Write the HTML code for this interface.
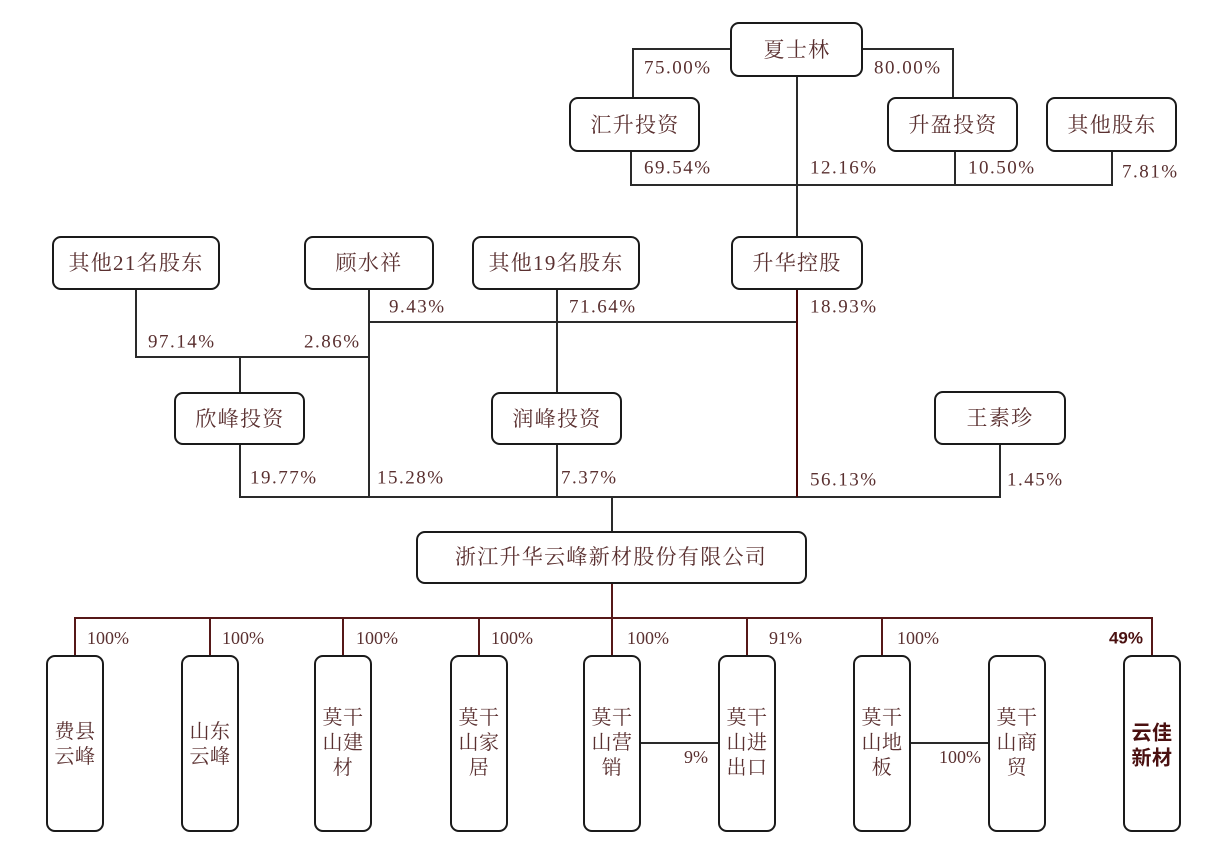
<!DOCTYPE html>
<html><head><meta charset="utf-8"><style>
html,body{margin:0;padding:0;background:#fff;}
svg{display:block;}
.b{fill:#fff;stroke:#1a1a1a;stroke-width:2;}
.t{font-family:"Liberation Serif","Noto Serif CJK SC",serif;font-size:21px;fill:#5a3030;letter-spacing:1.3px;}
.c{font-family:"Liberation Serif","Noto Serif CJK SC",serif;font-size:20px;fill:#5a3030;letter-spacing:0.5px;}
.p{font-family:"Liberation Serif","Noto Serif CJK SC",serif;font-size:19px;fill:#5a3030;letter-spacing:1.5px;}
.q{font-family:"Liberation Serif","Noto Serif CJK SC",serif;font-size:18px;fill:#5a3030;}
.k{fill:none;stroke:#2a2a2a;stroke-width:2;}
.r{fill:none;stroke:#561818;stroke-width:2;}
</style></head><body>
<svg width="1230" height="846" viewBox="0 0 1230 846" xmlns="http://www.w3.org/2000/svg">
<!-- connectors -->
<polyline class="k" points="633,98 633,49 731,49"/>
<polyline class="k" points="862,49 953,49 953,98"/>
<line class="k" x1="797" y1="76" x2="797" y2="237"/>
<polyline class="k" points="631,151 631,185 1112,185 1112,151"/>
<line class="k" x1="955" y1="151" x2="955" y2="185"/>
<polyline class="k" points="136,289 136,357 369,357"/>
<line class="k" x1="369" y1="289" x2="369" y2="497"/>
<line class="k" x1="369" y1="322" x2="797" y2="322"/>
<line class="k" x1="557" y1="289" x2="557" y2="393"/>
<line class="k" x1="240" y1="357" x2="240" y2="393"/>
<polyline class="k" points="240,444 240,497 1000,497 1000,444"/>
<line class="k" x1="557" y1="444" x2="557" y2="497"/>
<line class="k" x1="612" y1="497" x2="612" y2="532"/>
<line class="r" x1="797" y1="289" x2="797" y2="497" style="stroke:#4a0808"/>
<line class="r" x1="612" y1="583" x2="612" y2="656"/>
<polyline class="r" points="75,656 75,618 1152,618 1152,656"/>
<line class="r" x1="210" y1="618" x2="210" y2="656"/>
<line class="r" x1="343" y1="618" x2="343" y2="656"/>
<line class="r" x1="479" y1="618" x2="479" y2="656"/>
<line class="r" x1="747" y1="618" x2="747" y2="656"/>
<line class="r" x1="882" y1="618" x2="882" y2="656"/>
<line class="k" x1="640" y1="743" x2="719" y2="743"/>
<line class="k" x1="910" y1="743" x2="989" y2="743"/>

<!-- top boxes -->
<rect class="b" x="731" y="23" width="131" height="53" rx="8"/>
<text class="t" x="797" y="50" text-anchor="middle" dominant-baseline="central">夏士林</text>
<rect class="b" x="570" y="98" width="129" height="53" rx="8"/>
<text class="t" x="635" y="125" text-anchor="middle" dominant-baseline="central">汇升投资</text>
<rect class="b" x="888" y="98" width="129" height="53" rx="8"/>
<text class="t" x="953" y="125" text-anchor="middle" dominant-baseline="central">升盈投资</text>
<rect class="b" x="1047" y="98" width="129" height="53" rx="8"/>
<text class="t" x="1112" y="125" text-anchor="middle" dominant-baseline="central">其他股东</text>

<rect class="b" x="53" y="237" width="166" height="52" rx="8"/>
<text class="t" x="136" y="263" text-anchor="middle" dominant-baseline="central">其他21名股东</text>
<rect class="b" x="305" y="237" width="128" height="52" rx="8"/>
<text class="t" x="369" y="263" text-anchor="middle" dominant-baseline="central">顾水祥</text>
<rect class="b" x="473" y="237" width="166" height="52" rx="8"/>
<text class="t" x="556" y="263" text-anchor="middle" dominant-baseline="central">其他19名股东</text>
<rect class="b" x="732" y="237" width="130" height="52" rx="8"/>
<text class="t" x="797" y="263" text-anchor="middle" dominant-baseline="central">升华控股</text>

<rect class="b" x="175" y="393" width="129" height="51" rx="8"/>
<text class="t" x="240" y="419" text-anchor="middle" dominant-baseline="central">欣峰投资</text>
<rect class="b" x="492" y="393" width="129" height="51" rx="8"/>
<text class="t" x="557" y="419" text-anchor="middle" dominant-baseline="central">润峰投资</text>
<rect class="b" x="935" y="392" width="130" height="52" rx="8"/>
<text class="t" x="1000" y="418" text-anchor="middle" dominant-baseline="central">王素珍</text>

<rect class="b" x="417" y="532" width="389" height="51" rx="8"/>
<text class="t" x="611" y="557" text-anchor="middle" dominant-baseline="central">浙江升华云峰新材股份有限公司</text>

<!-- child boxes -->
<rect class="b" x="47" y="656" width="56" height="175" rx="8"/>
<text class="c" x="75" y="732" text-anchor="middle" dominant-baseline="central">费县</text>
<text class="c" x="75" y="757" text-anchor="middle" dominant-baseline="central">云峰</text>
<rect class="b" x="182" y="656" width="56" height="175" rx="8"/>
<text class="c" x="210" y="732" text-anchor="middle" dominant-baseline="central">山东</text>
<text class="c" x="210" y="757" text-anchor="middle" dominant-baseline="central">云峰</text>
<rect class="b" x="315" y="656" width="56" height="175" rx="8"/>
<text class="c" x="343" y="718" text-anchor="middle" dominant-baseline="central">莫干</text>
<text class="c" x="343" y="743" text-anchor="middle" dominant-baseline="central">山建</text>
<text class="c" x="343" y="768" text-anchor="middle" dominant-baseline="central">材</text>
<rect class="b" x="451" y="656" width="56" height="175" rx="8"/>
<text class="c" x="479" y="718" text-anchor="middle" dominant-baseline="central">莫干</text>
<text class="c" x="479" y="743" text-anchor="middle" dominant-baseline="central">山家</text>
<text class="c" x="479" y="768" text-anchor="middle" dominant-baseline="central">居</text>
<rect class="b" x="584" y="656" width="56" height="175" rx="8"/>
<text class="c" x="612" y="718" text-anchor="middle" dominant-baseline="central">莫干</text>
<text class="c" x="612" y="743" text-anchor="middle" dominant-baseline="central">山营</text>
<text class="c" x="612" y="768" text-anchor="middle" dominant-baseline="central">销</text>
<rect class="b" x="719" y="656" width="56" height="175" rx="8"/>
<text class="c" x="747" y="718" text-anchor="middle" dominant-baseline="central">莫干</text>
<text class="c" x="747" y="743" text-anchor="middle" dominant-baseline="central">山进</text>
<text class="c" x="747" y="768" text-anchor="middle" dominant-baseline="central">出口</text>
<rect class="b" x="854" y="656" width="56" height="175" rx="8"/>
<text class="c" x="882" y="718" text-anchor="middle" dominant-baseline="central">莫干</text>
<text class="c" x="882" y="743" text-anchor="middle" dominant-baseline="central">山地</text>
<text class="c" x="882" y="768" text-anchor="middle" dominant-baseline="central">板</text>
<rect class="b" x="989" y="656" width="56" height="175" rx="8"/>
<text class="c" x="1017" y="718" text-anchor="middle" dominant-baseline="central">莫干</text>
<text class="c" x="1017" y="743" text-anchor="middle" dominant-baseline="central">山商</text>
<text class="c" x="1017" y="768" text-anchor="middle" dominant-baseline="central">贸</text>
<rect class="b" x="1124" y="656" width="56" height="175" rx="8"/>
<text class="c" x="1152" y="731" text-anchor="middle" dominant-baseline="central" style="font-weight:bold;fill:#4a1010;font-family:'Noto Sans CJK SC',sans-serif">云佳</text>
<text class="c" x="1152" y="756" text-anchor="middle" dominant-baseline="central" style="font-weight:bold;fill:#4a1010;font-family:'Noto Sans CJK SC',sans-serif">新材</text>

<!-- percentage labels -->
<g class="p" dominant-baseline="central">
<text x="644" y="68">75.00%</text>
<text x="874" y="68">80.00%</text>
<text x="644" y="168">69.54%</text>
<text x="810" y="168">12.16%</text>
<text x="968" y="168">10.50%</text>
<text x="1122" y="172">7.81%</text>
<text x="389" y="307">9.43%</text>
<text x="569" y="307">71.64%</text>
<text x="810" y="307">18.93%</text>
<text x="148" y="342">97.14%</text>
<text x="304" y="342">2.86%</text>
<text x="250" y="478">19.77%</text>
<text x="377" y="478">15.28%</text>
<text x="561" y="478">7.37%</text>
<text x="810" y="480">56.13%</text>
<text x="1007" y="480">1.45%</text>
</g>
<g class="q" dominant-baseline="central">
<text x="87" y="638">100%</text>
<text x="222" y="638">100%</text>
<text x="356" y="638">100%</text>
<text x="491" y="638">100%</text>
<text x="627" y="638">100%</text>
<text x="769" y="638">91%</text>
<text x="897" y="638">100%</text>
<text x="684" y="757">9%</text>
<text x="939" y="757">100%</text>
</g>
<text x="1143" y="638" text-anchor="end" dominant-baseline="central" style="font-family:'Liberation Sans',sans-serif;font-weight:bold;font-size:17px;fill:#4a1010">49%</text>
</svg>
</body></html>
